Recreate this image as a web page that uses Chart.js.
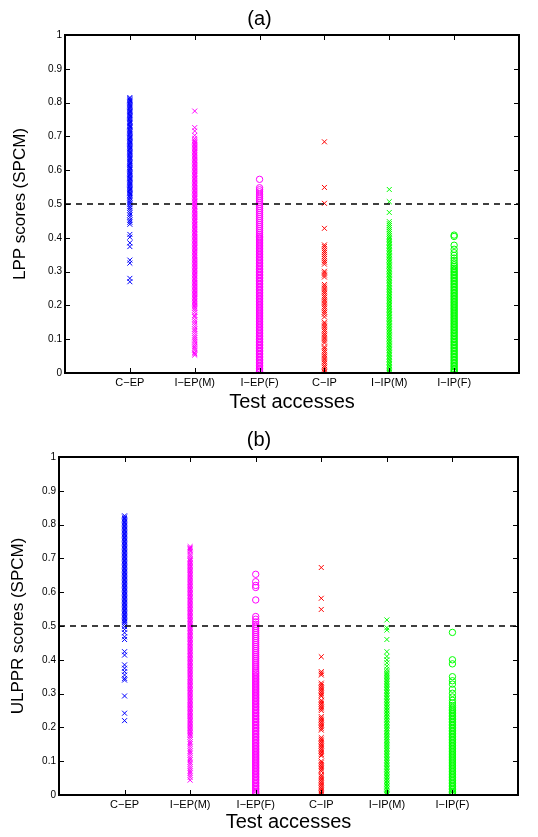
<!DOCTYPE html>
<html>
<head>
<meta charset="utf-8">
<script src="https://cdn.jsdelivr.net/npm/chart.js@4/dist/chart.umd.min.js"></script>
<style>
  body { margin: 0; background: #fff; }
  .box { width: 538px; position: relative; }
</style>
</head>
<body>
<div class="box" style="height:418px"><canvas id="chartA"></canvas></div>
<div class="box" style="height:419px"><canvas id="chartB"></canvas></div>
<script>
var categories = ["C\u2212EP", "I\u2212EP(M)", "I\u2212EP(F)", "C\u2212IP", "I\u2212IP(M)", "I\u2212IP(F)"];
var xTicks = [1, 2, 3, 4, 5, 6];
var yTicks = [0, 0.1, 0.2, 0.3, 0.4, 0.5, 0.6, 0.7, 0.8, 0.9, 1];
var threshold = 0.5;

// (a) LPP scores
var cepA = [0.815, 0.812, 0.808, 0.805, 0.801, 0.797, 0.794, 0.79, 0.786, 0.783, 0.779, 0.775, 0.772, 0.768, 0.764, 0.761, 0.757, 0.753, 0.75, 0.746, 0.742, 0.739, 0.735, 0.731, 0.728, 0.724, 0.72, 0.717, 0.713, 0.709, 0.706, 0.702, 0.698, 0.695, 0.691, 0.687, 0.684, 0.68, 0.676, 0.673, 0.669, 0.665, 0.662, 0.658, 0.654, 0.651, 0.647, 0.643, 0.64, 0.636, 0.632, 0.629, 0.625, 0.621, 0.618, 0.614, 0.61, 0.607, 0.603, 0.599, 0.596, 0.592, 0.588, 0.585, 0.581, 0.577, 0.574, 0.57, 0.566, 0.563, 0.559, 0.555, 0.552, 0.548, 0.544, 0.541, 0.537, 0.533, 0.53, 0.526, 0.522, 0.518, 0.513, 0.508, 0.503, 0.498, 0.492, 0.487, 0.481, 0.474, 0.467, 0.46, 0.452, 0.446, 0.44, 0.41, 0.402, 0.385, 0.374, 0.334, 0.325, 0.28, 0.27];
var imA = [0.775, 0.726, 0.716, 0.703, 0.694, 0.688, 0.684, 0.68, 0.676, 0.672, 0.668, 0.664, 0.66, 0.656, 0.652, 0.648, 0.644, 0.64, 0.636, 0.632, 0.628, 0.624, 0.62, 0.616, 0.612, 0.608, 0.604, 0.6, 0.596, 0.592, 0.588, 0.584, 0.58, 0.576, 0.572, 0.568, 0.564, 0.56, 0.556, 0.552, 0.548, 0.544, 0.54, 0.536, 0.532, 0.528, 0.524, 0.52, 0.516, 0.512, 0.508, 0.504, 0.5, 0.496, 0.492, 0.488, 0.484, 0.48, 0.476, 0.472, 0.468, 0.464, 0.46, 0.456, 0.452, 0.448, 0.444, 0.44, 0.436, 0.432, 0.428, 0.424, 0.42, 0.416, 0.412, 0.408, 0.404, 0.4, 0.396, 0.392, 0.388, 0.384, 0.38, 0.376, 0.372, 0.368, 0.364, 0.36, 0.356, 0.352, 0.348, 0.344, 0.34, 0.336, 0.332, 0.328, 0.324, 0.32, 0.316, 0.312, 0.308, 0.304, 0.3, 0.296, 0.292, 0.288, 0.284, 0.28, 0.276, 0.272, 0.268, 0.264, 0.26, 0.256, 0.252, 0.248, 0.244, 0.24, 0.236, 0.232, 0.228, 0.224, 0.22, 0.216, 0.212, 0.208, 0.204, 0.2, 0.196, 0.192, 0.186, 0.179, 0.171, 0.166, 0.158, 0.151, 0.144, 0.137, 0.13, 0.124, 0.117, 0.11, 0.104, 0.098, 0.092, 0.085, 0.079, 0.074, 0.068, 0.061, 0.057, 0.053];
var ifA = [0.573, 0.548, 0.542, 0.536, 0.529, 0.523, 0.517, 0.511, 0.505, 0.499, 0.493, 0.487, 0.481, 0.475, 0.469, 0.463, 0.457, 0.451, 0.445, 0.439, 0.433, 0.427, 0.421, 0.415, 0.409, 0.404, 0.4, 0.396, 0.391, 0.387, 0.382, 0.378, 0.373, 0.369, 0.364, 0.36, 0.355, 0.351, 0.346, 0.342, 0.337, 0.333, 0.328, 0.324, 0.319, 0.315, 0.31, 0.306, 0.301, 0.297, 0.292, 0.288, 0.283, 0.279, 0.274, 0.27, 0.265, 0.261, 0.256, 0.252, 0.247, 0.243, 0.238, 0.234, 0.229, 0.225, 0.22, 0.216, 0.211, 0.207, 0.202, 0.198, 0.193, 0.189, 0.184, 0.18, 0.175, 0.171, 0.166, 0.162, 0.157, 0.153, 0.148, 0.144, 0.139, 0.135, 0.13, 0.126, 0.121, 0.117, 0.112, 0.108, 0.103, 0.099, 0.094, 0.09, 0.085, 0.081, 0.076, 0.072, 0.067, 0.063, 0.058, 0.054, 0.049, 0.045, 0.04, 0.036, 0.031, 0.027, 0.022, 0.018, 0.013, 0.009, 0.005, 0.002];
var cipA = [0.684, 0.549, 0.502, 0.428, 0.379, 0.374, 0.368, 0.362, 0.357, 0.351, 0.345, 0.339, 0.333, 0.328, 0.322, 0.301, 0.296, 0.29, 0.284, 0.262, 0.257, 0.251, 0.246, 0.24, 0.235, 0.229, 0.224, 0.218, 0.213, 0.207, 0.202, 0.196, 0.191, 0.185, 0.18, 0.174, 0.166, 0.15, 0.145, 0.139, 0.134, 0.128, 0.123, 0.117, 0.112, 0.106, 0.101, 0.095, 0.089, 0.077, 0.072, 0.066, 0.061, 0.055, 0.05, 0.044, 0.039, 0.033, 0.028, 0.022, 0.017, 0.011, 0.006, 0.002];
var igmA = [0.543, 0.507, 0.475, 0.448, 0.442, 0.436, 0.43, 0.424, 0.418, 0.412, 0.406, 0.401, 0.397, 0.392, 0.388, 0.383, 0.379, 0.374, 0.37, 0.365, 0.361, 0.356, 0.352, 0.347, 0.343, 0.338, 0.334, 0.329, 0.325, 0.32, 0.316, 0.311, 0.307, 0.302, 0.298, 0.293, 0.289, 0.284, 0.28, 0.275, 0.271, 0.266, 0.262, 0.257, 0.253, 0.248, 0.244, 0.239, 0.235, 0.23, 0.226, 0.221, 0.217, 0.212, 0.208, 0.203, 0.199, 0.194, 0.19, 0.185, 0.181, 0.176, 0.172, 0.167, 0.163, 0.158, 0.154, 0.149, 0.145, 0.14, 0.136, 0.131, 0.127, 0.122, 0.118, 0.113, 0.109, 0.104, 0.1, 0.095, 0.091, 0.086, 0.082, 0.077, 0.073, 0.068, 0.064, 0.059, 0.055, 0.05, 0.046, 0.041, 0.037, 0.032, 0.028, 0.023, 0.019, 0.014, 0.01, 0.005, 0.002];
var igfA = [0.408, 0.404, 0.378, 0.366, 0.356, 0.348, 0.34, 0.333, 0.326, 0.32, 0.315, 0.31, 0.306, 0.301, 0.297, 0.292, 0.288, 0.283, 0.279, 0.274, 0.27, 0.265, 0.261, 0.256, 0.252, 0.247, 0.243, 0.238, 0.234, 0.229, 0.225, 0.22, 0.216, 0.211, 0.207, 0.202, 0.198, 0.193, 0.189, 0.184, 0.18, 0.175, 0.171, 0.166, 0.162, 0.157, 0.153, 0.148, 0.144, 0.139, 0.135, 0.13, 0.126, 0.121, 0.117, 0.112, 0.108, 0.103, 0.099, 0.094, 0.09, 0.085, 0.081, 0.076, 0.072, 0.067, 0.063, 0.058, 0.054, 0.049, 0.045, 0.04, 0.036, 0.031, 0.027, 0.022, 0.018, 0.013, 0.009, 0.005, 0.002];

// (b) ULPPR scores
var cepB = [0.826, 0.822, 0.818, 0.814, 0.81, 0.806, 0.802, 0.798, 0.794, 0.79, 0.786, 0.782, 0.778, 0.774, 0.77, 0.766, 0.762, 0.758, 0.754, 0.75, 0.746, 0.742, 0.738, 0.734, 0.73, 0.726, 0.722, 0.718, 0.714, 0.71, 0.706, 0.702, 0.698, 0.694, 0.69, 0.686, 0.682, 0.678, 0.674, 0.67, 0.666, 0.662, 0.658, 0.654, 0.65, 0.646, 0.642, 0.638, 0.634, 0.63, 0.626, 0.622, 0.618, 0.614, 0.61, 0.606, 0.602, 0.598, 0.594, 0.59, 0.586, 0.582, 0.578, 0.574, 0.57, 0.566, 0.562, 0.558, 0.554, 0.55, 0.546, 0.542, 0.538, 0.534, 0.53, 0.526, 0.522, 0.518, 0.514, 0.51, 0.505, 0.498, 0.49, 0.48, 0.468, 0.46, 0.424, 0.414, 0.385, 0.375, 0.365, 0.355, 0.345, 0.34, 0.293, 0.242, 0.22];
var imB = [0.735, 0.731, 0.728, 0.724, 0.72, 0.712, 0.706, 0.7, 0.696, 0.692, 0.688, 0.684, 0.68, 0.676, 0.672, 0.668, 0.664, 0.66, 0.656, 0.652, 0.648, 0.644, 0.64, 0.636, 0.632, 0.628, 0.624, 0.62, 0.616, 0.612, 0.608, 0.604, 0.6, 0.596, 0.592, 0.588, 0.584, 0.58, 0.576, 0.572, 0.568, 0.564, 0.56, 0.556, 0.552, 0.548, 0.544, 0.54, 0.536, 0.532, 0.528, 0.524, 0.52, 0.516, 0.512, 0.508, 0.504, 0.5, 0.496, 0.492, 0.488, 0.484, 0.48, 0.476, 0.472, 0.468, 0.464, 0.46, 0.456, 0.452, 0.448, 0.444, 0.44, 0.436, 0.432, 0.428, 0.424, 0.42, 0.416, 0.412, 0.408, 0.404, 0.4, 0.396, 0.392, 0.388, 0.384, 0.38, 0.376, 0.372, 0.368, 0.364, 0.36, 0.356, 0.352, 0.348, 0.344, 0.34, 0.336, 0.332, 0.328, 0.324, 0.32, 0.316, 0.312, 0.308, 0.304, 0.3, 0.296, 0.292, 0.288, 0.284, 0.28, 0.276, 0.272, 0.268, 0.264, 0.26, 0.256, 0.252, 0.248, 0.244, 0.24, 0.236, 0.232, 0.228, 0.224, 0.22, 0.216, 0.212, 0.208, 0.204, 0.2, 0.196, 0.192, 0.188, 0.184, 0.18, 0.176, 0.171, 0.164, 0.157, 0.151, 0.144, 0.137, 0.13, 0.124, 0.117, 0.11, 0.104, 0.097, 0.091, 0.084, 0.078, 0.071, 0.065, 0.058, 0.052, 0.044];
var ifB = [0.653, 0.631, 0.62, 0.614, 0.577, 0.528, 0.52, 0.512, 0.505, 0.499, 0.493, 0.487, 0.481, 0.475, 0.469, 0.463, 0.457, 0.451, 0.445, 0.439, 0.433, 0.427, 0.421, 0.415, 0.409, 0.403, 0.397, 0.391, 0.385, 0.379, 0.373, 0.367, 0.362, 0.358, 0.353, 0.349, 0.344, 0.34, 0.335, 0.331, 0.326, 0.322, 0.317, 0.313, 0.308, 0.304, 0.299, 0.295, 0.29, 0.286, 0.281, 0.277, 0.272, 0.268, 0.263, 0.259, 0.254, 0.25, 0.245, 0.241, 0.236, 0.232, 0.227, 0.223, 0.218, 0.214, 0.209, 0.205, 0.2, 0.196, 0.191, 0.187, 0.182, 0.178, 0.173, 0.169, 0.164, 0.16, 0.155, 0.151, 0.146, 0.142, 0.137, 0.133, 0.128, 0.124, 0.119, 0.115, 0.11, 0.106, 0.101, 0.097, 0.092, 0.088, 0.083, 0.079, 0.074, 0.07, 0.065, 0.061, 0.056, 0.052, 0.047, 0.043, 0.038, 0.034, 0.029, 0.025, 0.02, 0.016, 0.011, 0.007, 0.004];
var cipB = [0.673, 0.582, 0.549, 0.409, 0.365, 0.36, 0.355, 0.331, 0.326, 0.321, 0.316, 0.311, 0.306, 0.301, 0.296, 0.292, 0.28, 0.275, 0.27, 0.265, 0.26, 0.255, 0.25, 0.232, 0.227, 0.222, 0.217, 0.212, 0.207, 0.202, 0.197, 0.192, 0.17, 0.165, 0.16, 0.155, 0.15, 0.145, 0.14, 0.135, 0.13, 0.125, 0.12, 0.116, 0.1, 0.095, 0.09, 0.085, 0.08, 0.075, 0.07, 0.06, 0.055, 0.05, 0.045, 0.04, 0.035, 0.03, 0.025, 0.02, 0.015, 0.01, 0.005, 0.002];
var igmB = [0.518, 0.495, 0.488, 0.46, 0.424, 0.41, 0.4, 0.391, 0.381, 0.372, 0.365, 0.36, 0.356, 0.351, 0.347, 0.342, 0.338, 0.333, 0.329, 0.324, 0.32, 0.315, 0.311, 0.306, 0.302, 0.297, 0.293, 0.288, 0.284, 0.279, 0.275, 0.27, 0.266, 0.261, 0.257, 0.252, 0.248, 0.243, 0.239, 0.234, 0.23, 0.225, 0.221, 0.216, 0.212, 0.207, 0.203, 0.198, 0.194, 0.189, 0.185, 0.18, 0.176, 0.171, 0.167, 0.162, 0.158, 0.153, 0.149, 0.144, 0.14, 0.135, 0.131, 0.126, 0.122, 0.117, 0.113, 0.108, 0.104, 0.099, 0.095, 0.09, 0.086, 0.081, 0.077, 0.072, 0.068, 0.063, 0.059, 0.054, 0.05, 0.045, 0.041, 0.036, 0.032, 0.027, 0.023, 0.018, 0.014, 0.009, 0.005, 0.002];
var igfB = [0.481, 0.4, 0.388, 0.35, 0.338, 0.328, 0.313, 0.301, 0.29, 0.28, 0.272, 0.265, 0.259, 0.254, 0.25, 0.245, 0.241, 0.236, 0.232, 0.227, 0.223, 0.218, 0.214, 0.209, 0.205, 0.2, 0.196, 0.191, 0.187, 0.182, 0.178, 0.173, 0.169, 0.164, 0.16, 0.155, 0.151, 0.146, 0.142, 0.137, 0.133, 0.128, 0.124, 0.119, 0.115, 0.11, 0.106, 0.101, 0.097, 0.092, 0.088, 0.083, 0.079, 0.074, 0.07, 0.065, 0.061, 0.056, 0.052, 0.047, 0.043, 0.038, 0.034, 0.029, 0.025, 0.02, 0.016, 0.011, 0.007, 0.003];

var fontFamily = "'Liberation Sans', Arial, Helvetica, sans-serif";

// matlab-style box with inward ticks on all four sides
var boxTicks = {
  id: "boxTicks",
  afterDatasetsDraw: function(chart) {
    var ctx = chart.ctx;
    var a = chart.chartArea;
    var xs = chart.scales.x, ys = chart.scales.y;
    var len = 5;
    ctx.save();
    ctx.strokeStyle = "#000";
    ctx.lineWidth = 1;
    ctx.beginPath();
    xTicks.forEach(function(v) {
      var px = Math.round(xs.getPixelForValue(v)) + 0.5;
      ctx.moveTo(px, a.bottom); ctx.lineTo(px, a.bottom - len);
      ctx.moveTo(px, a.top); ctx.lineTo(px, a.top + len);
    });
    yTicks.forEach(function(v) {
      var py = Math.round(ys.getPixelForValue(v)) + 0.5;
      ctx.moveTo(a.left, py); ctx.lineTo(a.left + len, py);
      ctx.moveTo(a.right, py); ctx.lineTo(a.right - len, py);
    });
    ctx.stroke();
    ctx.lineWidth = 2;
    ctx.strokeRect(a.left, a.top, a.right - a.left, a.bottom - a.top);
    ctx.restore();
  }
};

function series(vals, idx, color, style) {
  return {
    data: vals.map(function(v) { return { x: xTicks[idx], y: v }; }),
    pointStyle: style,
    pointRadius: style === "circle" ? 3.2 : 3.5,
    borderColor: color,
    backgroundColor: "rgba(0,0,0,0)",
    pointBorderWidth: 1,
    showLine: false,
    order: 2
  };
}

function drawPanel(id, cfg) {
  var datasets = [
    {
      data: [{ x: 0, y: threshold }, { x: 7, y: threshold }],
      showLine: true,
      borderColor: "#000",
      borderWidth: 1.6,
      borderDash: [6, 5],
      pointRadius: 0,
      order: 1
    },
    series(cfg.values[0], 0, "#0000ff", "crossRot"),
    series(cfg.values[1], 1, "#ff00ff", "crossRot"),
    series(cfg.values[2], 2, "#ff00ff", "circle"),
    series(cfg.values[3], 3, "#ff0000", "crossRot"),
    series(cfg.values[4], 4, "#00ff00", "crossRot"),
    series(cfg.values[5], 5, "#00ff00", "circle")
  ];

  new Chart(document.getElementById(id), {
    type: "scatter",
    data: { datasets: datasets },
    plugins: [boxTicks],
    options: {
      responsive: true,
      maintainAspectRatio: false,
      animation: false,
      events: [],
      layout: { padding: { left: 0, right: cfg.padRight, top: 0, bottom: 0 } },
      plugins: {
        legend: { display: false },
        tooltip: { enabled: false },
        title: {
          display: true,
          text: cfg.title,
          color: "#000",
          font: { family: fontFamily, size: 20, weight: "normal" },
          padding: cfg.titlePad
        }
      },
      scales: {
        x: {
          type: "linear",
          min: 0,
          max: 7,
          afterBuildTicks: function(scale) {
            scale.ticks = xTicks.map(function(v) { return { value: v }; });
          },
          afterFit: function(scale) { scale.height = cfg.xHeight; },
          ticks: {
            color: "#000",
            padding: 3,
            maxRotation: 0,
            autoSkip: false,
            font: { family: fontFamily, size: 11 },
            callback: function(v) { return categories[xTicks.indexOf(v)] || ""; }
          },
          grid: { display: false, drawTicks: false },
          border: { display: false },
          title: {
            display: true,
            text: "Test accesses",
            color: "#000",
            font: { family: fontFamily, size: 20 },
            padding: { top: 0, bottom: cfg.xTitlePad }
          }
        },
        y: {
          min: 0,
          max: 1,
          afterBuildTicks: function(scale) {
            scale.ticks = yTicks.map(function(v) { return { value: v }; });
          },
          afterFit: function(scale) { scale.width = cfg.yWidth; },
          ticks: {
            color: "#000",
            padding: 3,
            font: { family: fontFamily, size: 10 },
            callback: function(v) { return String(v); }
          },
          grid: { display: false, drawTicks: false },
          border: { display: false },
          title: {
            display: true,
            text: cfg.yLabel,
            color: "#000",
            font: { family: fontFamily, size: 17 },
            padding: { top: cfg.yTitlePad, bottom: 0 }
          }
        }
      }
    }
  });
}

drawPanel("chartA", {
  title: "(a)",
  yLabel: "LPP scores (SPCM)",
  values: [cepA, imA, ifA, cipA, igmA, igfA],
  padRight: 19,
  titlePad: { top: 7, bottom: 4 },
  xHeight: 45,
  xTitlePad: 4,
  yWidth: 65,
  yTitlePad: 10
});

drawPanel("chartB", {
  title: "(b)",
  yLabel: "ULPPR scores (SPCM)",
  values: [cepB, imB, ifB, cipB, igmB, igfB],
  padRight: 20,
  titlePad: { top: 10, bottom: 5 },
  xHeight: 42,
  xTitlePad: 3,
  yWidth: 59,
  yTitlePad: 8
});
</script>
</body>
</html>
